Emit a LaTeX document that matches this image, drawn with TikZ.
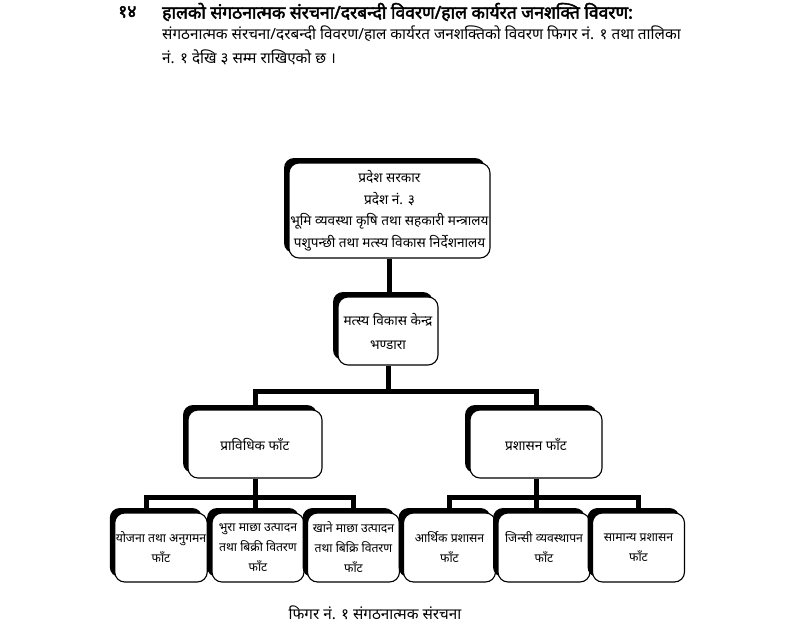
\documentclass[tikz,border=0pt]{standalone}
\usepackage{fontspec}
\newfontfamily\dev[Script=Devanagari]{Noto Sans}
\newfontfamily\devbold[Script=Devanagari,FakeBold=2.5]{Noto Sans}
\usetikzlibrary{shadows}
\begin{document}
\begin{tikzpicture}[x=1pt,y=-1pt,
    box/.style={draw=black, line width=1.1pt, fill=white, rounded corners=10pt,
      align=center, inner sep=1pt,
      general shadow={shadow xshift=-5pt, shadow yshift=5pt, fill=black},
      font=\dev\fontsize{13.6}{21.5}\selectfont},
    leaf/.style={box, minimum width=92pt, minimum height=69pt,
      font=\dev\fontsize{12.2}{20}\selectfont},
    link/.style={line width=5pt},
    txt/.style={anchor=west, inner sep=0pt}]
  \useasboundingbox (0,0) rectangle (796,624);
  % heading
  \node[txt, font=\devbold\fontsize{17.5}{20}\selectfont] (num) at (118,12) {१४};
  \node[txt, font=\devbold\fontsize{17.5}{20}\selectfont] (title) at (162,12)
    {हालको संगठनात्मक संरचना/दरबन्दी विवरण/हाल कार्यरत जनशक्ति विवरण:};
  \node[txt, font=\dev\fontsize{15.3}{17}\selectfont] (line2) at (162,34)
    {संगठनात्मक संरचना/दरबन्दी विवरण/हाल कार्यरत जनशक्तिको विवरण फिगर नं. १ तथा तालिका};
  \node[txt, font=\dev\fontsize{15.3}{17}\selectfont] (line3) at (162,57)
    {नं. १ देखि ३ सम्म राखिएको छ ।};
  % boxes
  \node[box, minimum width=201pt, minimum height=95pt] (pradesh) at (389.5,210.5)
    {प्रदेश सरकार\\प्रदेश नं. ३\\भूमि व्यवस्था कृषि तथा सहकारी मन्त्रालय\\पशुपन्छी तथा मत्स्य विकास निर्देशनालय};
  \node[box, minimum width=100pt, minimum height=68pt, font=\dev\fontsize{13.6}{24}\selectfont] (kendra) at (388,331)
    {मत्स्य विकास केन्द्र\\भण्डारा};
  \node[box, minimum width=134pt, minimum height=68pt] (tech) at (255,444) {प्राविधिक फाँट};
  \node[box, minimum width=132pt, minimum height=68pt] (admin) at (536,444) {प्रशासन फाँट};
  \node[leaf] (yojana) at (161,547.5) {योजना तथा अनुगमन\\फाँट};
  \node[leaf] (bhura) at (258,547.5) {भुरा माछा उत्पादन\\तथा बिक्री वितरण\\फाँट};
  \node[leaf] (khane) at (353.5,547.5) {खाने माछा उत्पादन\\तथा बिक्रि वितरण\\फाँट};
  \node[leaf] (arthik) at (449.5,547.5) {आर्थिक प्रशासन\\फाँट};
  \node[leaf] (jinsi) at (544,547.5) {जिन्सी व्यवस्थापन\\फाँट};
  \node[leaf] (saman) at (638.5,547.5) {सामान्य प्रशासन\\फाँट};
  % connectors
  \draw[link] (pradesh.south) -- (pradesh.south |- kendra.north);
  \draw[link] (kendra.south) -- ++(0,26) coordinate (j1);
  \draw[link] (tech.north) |- (j1) -| (admin.north);
  \draw[link] (tech.south) -- (tech.south |- bhura.north);
  \draw[link] ([xshift=-15pt]yojana.north) |- ([yshift=-19pt]tech.south) -| (khane.north);
  \draw[link] (admin.south) -- (admin.south |- jinsi.north);
  \draw[link] (arthik.north) |- ([yshift=-19pt]admin.south) -| (saman.north);
  % caption
  \node[font=\dev\fontsize{15.3}{17}\selectfont] (caption) at (375,613) {फिगर नं. १ संगठनात्मक संरचना};
\end{tikzpicture}
\end{document}
